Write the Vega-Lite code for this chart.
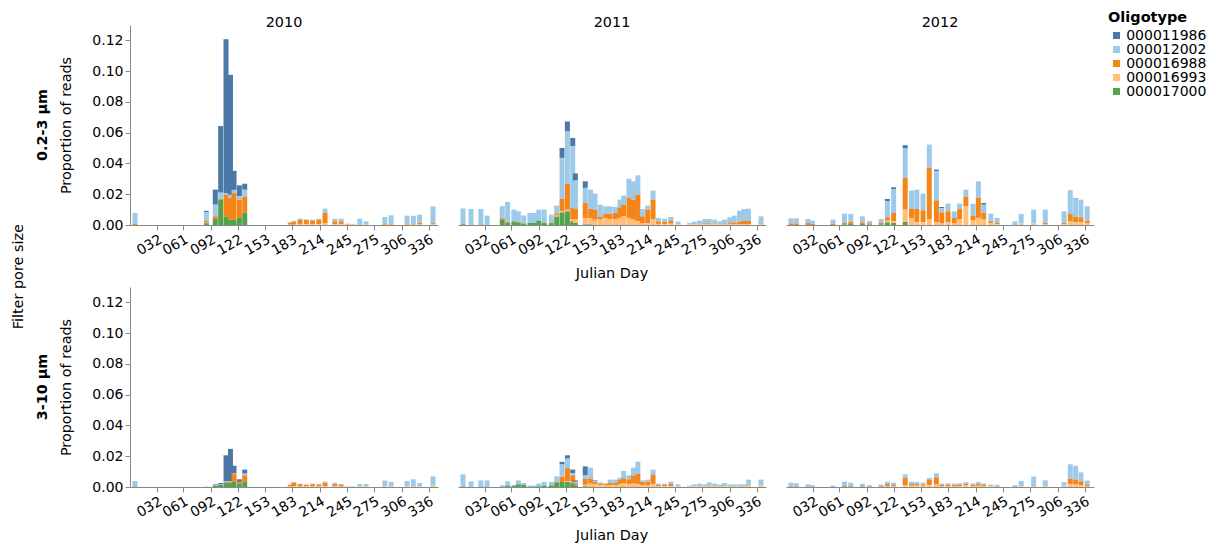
{
"$schema": "https://vega.github.io/schema/vega-lite/v6.json",
"padding": {"left": 11, "top": 11, "right": 5, "bottom": 2},
"title": {"text": "Filter pore size", "orient": "left", "anchor": "middle", "fontSize": 14.4, "fontWeight": "normal", "font": "DejaVu Sans", "offset": 9, "color": "#000"},
"data": {"values": [
{"pore":"0.2-3 µm","year":"2010","day":7,"000011986":0,"000012002":0.0072,"000016988":0.0006,"000016993":0,"000017000":0},
{"pore":"0.2-3 µm","year":"2010","day":87,"000011986":0.0009,"000012002":0.0056,"000016988":0.0012,"000016993":0.0003,"000017000":0.0012},
{"pore":"0.2-3 µm","year":"2010","day":97,"000011986":0.0098,"000012002":0.0076,"000016988":0.0017,"000016993":0,"000017000":0.0039},
{"pore":"0.2-3 µm","year":"2010","day":103,"000011986":0.0433,"000012002":0.004,"000016988":0.0005,"000016993":0,"000017000":0.0165},
{"pore":"0.2-3 µm","year":"2010","day":109,"000011986":0.1,"000012002":0.0011,"000016988":0.0141,"000016993":0,"000017000":0.0056},
{"pore":"0.2-3 µm","year":"2010","day":114,"000011986":0.078,"000012002":0.0021,"000016988":0.0141,"000016993":0,"000017000":0.0034},
{"pore":"0.2-3 µm","year":"2010","day":118,"000011986":0.0124,"000012002":0.0021,"000016988":0.0173,"000016993":0,"000017000":0.0034},
{"pore":"0.2-3 µm","year":"2010","day":124,"000011986":0.0071,"000012002":0.0022,"000016988":0.0119,"000016993":0,"000017000":0.0046},
{"pore":"0.2-3 µm","year":"2010","day":130,"000011986":0.0039,"000012002":0.0043,"000016988":0.0106,"000016993":0,"000017000":0.008},
{"pore":"0.2-3 µm","year":"2010","day":181,"000011986":0,"000012002":0.0004,"000016988":0.0012,"000016993":0.0002,"000017000":0},
{"pore":"0.2-3 µm","year":"2010","day":185,"000011986":0,"000012002":0.0008,"000016988":0.0018,"000016993":0.0002,"000017000":0},
{"pore":"0.2-3 µm","year":"2010","day":192,"000011986":0,"000012002":0.0005,"000016988":0.0032,"000016993":0.0004,"000017000":0},
{"pore":"0.2-3 µm","year":"2010","day":199,"000011986":0,"000012002":0.0005,"000016988":0.0028,"000016993":0.0004,"000017000":0},
{"pore":"0.2-3 µm","year":"2010","day":206,"000011986":0,"000012002":0.0005,"000016988":0.0026,"000016993":0.0004,"000017000":0},
{"pore":"0.2-3 µm","year":"2010","day":213,"000011986":0,"000012002":0.0007,"000016988":0.003,"000016993":0.0004,"000017000":0},
{"pore":"0.2-3 µm","year":"2010","day":220,"000011986":0,"000012002":0.0028,"000016988":0.0065,"000016993":0.0013,"000017000":0},
{"pore":"0.2-3 µm","year":"2010","day":231,"000011986":0,"000012002":0.0017,"000016988":0.002,"000016993":0.0004,"000017000":0},
{"pore":"0.2-3 µm","year":"2010","day":238,"000011986":0,"000012002":0.0017,"000016988":0.002,"000016993":0.0004,"000017000":0},
{"pore":"0.2-3 µm","year":"2010","day":245,"000011986":0,"000012002":0.0004,"000016988":0.0003,"000016993":0.0002,"000017000":0},
{"pore":"0.2-3 µm","year":"2010","day":251,"000011986":0,"000012002":0.0004,"000016988":0,"000016993":0.0003,"000017000":0},
{"pore":"0.2-3 µm","year":"2010","day":259,"000011986":0,"000012002":0.0035,"000016988":0.0004,"000016993":0.0002,"000017000":0},
{"pore":"0.2-3 µm","year":"2010","day":266,"000011986":0,"000012002":0.0022,"000016988":0,"000016993":0.0002,"000017000":0},
{"pore":"0.2-3 µm","year":"2010","day":287,"000011986":0,"000012002":0.0046,"000016988":0.0004,"000016993":0.0002,"000017000":0},
{"pore":"0.2-3 µm","year":"2010","day":294,"000011986":0,"000012002":0.0057,"000016988":0.0004,"000016993":0.0002,"000017000":0},
{"pore":"0.2-3 µm","year":"2010","day":312,"000011986":0,"000012002":0.0053,"000016988":0.0006,"000016993":0.0002,"000017000":0},
{"pore":"0.2-3 µm","year":"2010","day":319,"000011986":0,"000012002":0.0053,"000016988":0.0004,"000016993":0.0002,"000017000":0},
{"pore":"0.2-3 µm","year":"2010","day":326,"000011986":0,"000012002":0.0052,"000016988":0.0012,"000016993":0.0003,"000017000":0},
{"pore":"0.2-3 µm","year":"2010","day":341,"000011986":0,"000012002":0.0109,"000016988":0.0008,"000016993":0.0004,"000017000":0},
{"pore":"3-10 µm","year":"2010","day":7,"000011986":0,"000012002":0.0035,"000016988":0.0004,"000016993":0,"000017000":0},
{"pore":"3-10 µm","year":"2010","day":87,"000011986":0,"000012002":0,"000016988":0,"000016993":0.0004,"000017000":0},
{"pore":"3-10 µm","year":"2010","day":97,"000011986":0.0005,"000012002":0.0003,"000016988":0,"000016993":0,"000017000":0.0009},
{"pore":"3-10 µm","year":"2010","day":103,"000011986":0.0008,"000012002":0.0004,"000016988":0,"000016993":0,"000017000":0.0014},
{"pore":"3-10 µm","year":"2010","day":109,"000011986":0.0167,"000012002":0.0006,"000016988":0.0008,"000016993":0,"000017000":0.0025},
{"pore":"3-10 µm","year":"2010","day":114,"000011986":0.0212,"000012002":0.0007,"000016988":0.0003,"000016993":0,"000017000":0.0026},
{"pore":"3-10 µm","year":"2010","day":118,"000011986":0.0048,"000012002":0.0003,"000016988":0.0054,"000016993":0,"000017000":0.0033},
{"pore":"3-10 µm","year":"2010","day":124,"000011986":0.0017,"000012002":0,"000016988":0.0011,"000016993":0,"000017000":0.0022},
{"pore":"3-10 µm","year":"2010","day":130,"000011986":0.0026,"000012002":0.0011,"000016988":0.0043,"000016993":0,"000017000":0.0033},
{"pore":"3-10 µm","year":"2010","day":181,"000011986":0,"000012002":0,"000016988":0.0012,"000016993":0.0003,"000017000":0},
{"pore":"3-10 µm","year":"2010","day":185,"000011986":0,"000012002":0.0005,"000016988":0.0025,"000016993":0.0003,"000017000":0},
{"pore":"3-10 µm","year":"2010","day":192,"000011986":0,"000012002":0.0004,"000016988":0.0015,"000016993":0.0003,"000017000":0},
{"pore":"3-10 µm","year":"2010","day":199,"000011986":0,"000012002":0.0003,"000016988":0.0011,"000016993":0.0003,"000017000":0},
{"pore":"3-10 µm","year":"2010","day":206,"000011986":0,"000012002":0.0004,"000016988":0.0015,"000016993":0.0003,"000017000":0},
{"pore":"3-10 µm","year":"2010","day":213,"000011986":0,"000012002":0.0004,"000016988":0.0013,"000016993":0.0003,"000017000":0},
{"pore":"3-10 µm","year":"2010","day":220,"000011986":0,"000012002":0.0009,"000016988":0.0022,"000016993":0.0004,"000017000":0},
{"pore":"3-10 µm","year":"2010","day":231,"000011986":0,"000012002":0.0009,"000016988":0.0015,"000016993":0.0004,"000017000":0},
{"pore":"3-10 µm","year":"2010","day":238,"000011986":0,"000012002":0.0005,"000016988":0.0012,"000016993":0.0003,"000017000":0},
{"pore":"3-10 µm","year":"2010","day":245,"000011986":0,"000012002":0.0002,"000016988":0,"000016993":0.0002,"000017000":0},
{"pore":"3-10 µm","year":"2010","day":251,"000011986":0,"000012002":0.0002,"000016988":0,"000016993":0.0002,"000017000":0},
{"pore":"3-10 µm","year":"2010","day":259,"000011986":0,"000012002":0.0017,"000016988":0,"000016993":0.0003,"000017000":0},
{"pore":"3-10 µm","year":"2010","day":266,"000011986":0,"000012002":0.0017,"000016988":0,"000016993":0.0003,"000017000":0},
{"pore":"3-10 µm","year":"2010","day":287,"000011986":0,"000012002":0.0039,"000016988":0,"000016993":0.0004,"000017000":0},
{"pore":"3-10 µm","year":"2010","day":294,"000011986":0,"000012002":0.0029,"000016988":0,"000016993":0.0004,"000017000":0},
{"pore":"3-10 µm","year":"2010","day":312,"000011986":0,"000012002":0.0035,"000016988":0,"000016993":0.0004,"000017000":0},
{"pore":"3-10 µm","year":"2010","day":319,"000011986":0,"000012002":0.0045,"000016988":0.0002,"000016993":0.0003,"000017000":0},
{"pore":"3-10 µm","year":"2010","day":326,"000011986":0,"000012002":0.0022,"000016988":0,"000016993":0.0004,"000017000":0},
{"pore":"3-10 µm","year":"2010","day":341,"000011986":0,"000012002":0.0061,"000016988":0,"000016993":0.0008,"000017000":0},
{"pore":"0.2-3 µm","year":"2011","day":7,"000011986":0,"000012002":0.0102,"000016988":0.0006,"000016993":0,"000017000":0},
{"pore":"0.2-3 µm","year":"2011","day":16,"000011986":0,"000012002":0.0104,"000016988":0,"000016993":0,"000017000":0},
{"pore":"0.2-3 µm","year":"2011","day":27,"000011986":0,"000012002":0.01,"000016988":0.0004,"000016993":0,"000017000":0},
{"pore":"0.2-3 µm","year":"2011","day":34,"000011986":0,"000012002":0.0061,"000016988":0,"000016993":0,"000017000":0},
{"pore":"0.2-3 µm","year":"2011","day":51,"000011986":0,"000012002":0.0078,"000016988":0.0011,"000016993":0,"000017000":0.0033},
{"pore":"0.2-3 µm","year":"2011","day":57,"000011986":0,"000012002":0.0132,"000016988":0.0005,"000016993":0,"000017000":0.0013},
{"pore":"0.2-3 µm","year":"2011","day":64,"000011986":0,"000012002":0.0076,"000016988":0,"000016993":0,"000017000":0.0024},
{"pore":"0.2-3 µm","year":"2011","day":69,"000011986":0,"000012002":0.0069,"000016988":0.0005,"000016993":0,"000017000":0.0015},
{"pore":"0.2-3 µm","year":"2011","day":75,"000011986":0,"000012002":0.0051,"000016988":0,"000016993":0,"000017000":0.001},
{"pore":"0.2-3 µm","year":"2011","day":82,"000011986":0,"000012002":0.0065,"000016988":0,"000016993":0,"000017000":0.0013},
{"pore":"0.2-3 µm","year":"2011","day":87,"000011986":0,"000012002":0.0065,"000016988":0,"000016993":0,"000017000":0.0013},
{"pore":"0.2-3 µm","year":"2011","day":92,"000011986":0,"000012002":0.0072,"000016988":0,"000016993":0,"000017000":0.0028},
{"pore":"0.2-3 µm","year":"2011","day":98,"000011986":0,"000012002":0.0087,"000016988":0,"000016993":0,"000017000":0.0013},
{"pore":"0.2-3 µm","year":"2011","day":106,"000011986":0,"000012002":0.005,"000016988":0.0005,"000016993":0,"000017000":0.0012},
{"pore":"0.2-3 µm","year":"2011","day":112,"000011986":0,"000012002":0.0052,"000016988":0.0013,"000016993":0.0007,"000017000":0.0054},
{"pore":"0.2-3 µm","year":"2011","day":118,"000011986":0.0065,"000012002":0.0267,"000016988":0.008,"000016993":0.0007,"000017000":0.0082},
{"pore":"0.2-3 µm","year":"2011","day":124,"000011986":0.0065,"000012002":0.034,"000016988":0.0169,"000016993":0.001,"000017000":0.0089},
{"pore":"0.2-3 µm","year":"2011","day":130,"000011986":0.0054,"000012002":0.0401,"000016988":0.0072,"000016993":0.0015,"000017000":0.0024},
{"pore":"0.2-3 µm","year":"2011","day":133,"000011986":0.0046,"000012002":0.0184,"000016988":0.007,"000016993":0.0022,"000017000":0.0013},
{"pore":"0.2-3 µm","year":"2011","day":144,"000011986":0.0043,"000012002":0.0098,"000016988":0.0098,"000016993":0.0041,"000017000":0.0004},
{"pore":"0.2-3 µm","year":"2011","day":150,"000011986":0,"000012002":0.0126,"000016988":0.0059,"000016993":0.0041,"000017000":0.0004},
{"pore":"0.2-3 µm","year":"2011","day":155,"000011986":0,"000012002":0.0104,"000016988":0.0065,"000016993":0.0035,"000017000":0},
{"pore":"0.2-3 µm","year":"2011","day":161,"000011986":0,"000012002":0.008,"000016988":0.0017,"000016993":0.0035,"000017000":0},
{"pore":"0.2-3 µm","year":"2011","day":167,"000011986":0,"000012002":0.0048,"000016988":0.003,"000016993":0.0043,"000017000":0},
{"pore":"0.2-3 µm","year":"2011","day":172,"000011986":0,"000012002":0.0048,"000016988":0.0035,"000016993":0.0038,"000017000":0},
{"pore":"0.2-3 µm","year":"2011","day":178,"000011986":0,"000012002":0.0039,"000016988":0.0043,"000016993":0.0035,"000017000":0},
{"pore":"0.2-3 µm","year":"2011","day":183,"000011986":0,"000012002":0.0054,"000016988":0.0065,"000016993":0.0046,"000017000":0},
{"pore":"0.2-3 µm","year":"2011","day":187,"000011986":0,"000012002":0.0059,"000016988":0.0076,"000016993":0.0056,"000017000":0},
{"pore":"0.2-3 µm","year":"2011","day":193,"000011986":0,"000012002":0.0124,"000016988":0.013,"000016993":0.0046,"000017000":0},
{"pore":"0.2-3 µm","year":"2011","day":198,"000011986":0,"000012002":0.0119,"000016988":0.013,"000016993":0.0035,"000017000":0},
{"pore":"0.2-3 µm","year":"2011","day":203,"000011986":0,"000012002":0.0126,"000016988":0.0173,"000016993":0.0024,"000017000":0},
{"pore":"0.2-3 µm","year":"2011","day":208,"000011986":0,"000012002":0.0048,"000016988":0.0043,"000016993":0.0013,"000017000":0},
{"pore":"0.2-3 µm","year":"2011","day":214,"000011986":0,"000012002":0.0026,"000016988":0.0087,"000016993":0.0013,"000017000":0},
{"pore":"0.2-3 µm","year":"2011","day":220,"000011986":0,"000012002":0.0059,"000016988":0.013,"000016993":0.0035,"000017000":0},
{"pore":"0.2-3 µm","year":"2011","day":226,"000011986":0,"000012002":0.0022,"000016988":0.0017,"000016993":0.0007,"000017000":0},
{"pore":"0.2-3 µm","year":"2011","day":233,"000011986":0,"000012002":0.002,"000016988":0.0015,"000016993":0.0006,"000017000":0},
{"pore":"0.2-3 µm","year":"2011","day":240,"000011986":0,"000012002":0.0022,"000016988":0.0022,"000016993":0.0008,"000017000":0},
{"pore":"0.2-3 µm","year":"2011","day":248,"000011986":0,"000012002":0.0018,"000016988":0,"000016993":0.0004,"000017000":0},
{"pore":"0.2-3 µm","year":"2011","day":261,"000011986":0,"000012002":0.0011,"000016988":0,"000016993":0.0002,"000017000":0},
{"pore":"0.2-3 µm","year":"2011","day":266,"000011986":0,"000012002":0.0018,"000016988":0,"000016993":0.0004,"000017000":0},
{"pore":"0.2-3 µm","year":"2011","day":272,"000011986":0,"000012002":0.0022,"000016988":0,"000016993":0.0006,"000017000":0},
{"pore":"0.2-3 µm","year":"2011","day":278,"000011986":0,"000012002":0.0028,"000016988":0.0006,"000016993":0.0005,"000017000":0},
{"pore":"0.2-3 µm","year":"2011","day":283,"000011986":0,"000012002":0.0029,"000016988":0.0005,"000016993":0.0005,"000017000":0},
{"pore":"0.2-3 µm","year":"2011","day":289,"000011986":0,"000012002":0.0026,"000016988":0.0004,"000016993":0.0005,"000017000":0},
{"pore":"0.2-3 µm","year":"2011","day":295,"000011986":0,"000012002":0.0018,"000016988":0,"000016993":0.0006,"000017000":0},
{"pore":"0.2-3 µm","year":"2011","day":300,"000011986":0,"000012002":0.0026,"000016988":0.0004,"000016993":0.0005,"000017000":0},
{"pore":"0.2-3 µm","year":"2011","day":306,"000011986":0,"000012002":0.0038,"000016988":0.0006,"000016993":0.0006,"000017000":0},
{"pore":"0.2-3 µm","year":"2011","day":311,"000011986":0,"000012002":0.0045,"000016988":0.001,"000016993":0.0006,"000017000":0},
{"pore":"0.2-3 µm","year":"2011","day":317,"000011986":0,"000012002":0.0072,"000016988":0.0015,"000016993":0.0006,"000017000":0},
{"pore":"0.2-3 µm","year":"2011","day":322,"000011986":0,"000012002":0.0078,"000016988":0.002,"000016993":0.0006,"000017000":0},
{"pore":"0.2-3 µm","year":"2011","day":327,"000011986":0,"000012002":0.0078,"000016988":0.0022,"000016993":0.0006,"000017000":0},
{"pore":"0.2-3 µm","year":"2011","day":341,"000011986":0,"000012002":0.0046,"000016988":0.0006,"000016993":0.0004,"000017000":0},
{"pore":"3-10 µm","year":"2011","day":7,"000011986":0,"000012002":0.0078,"000016988":0.0004,"000016993":0,"000017000":0},
{"pore":"3-10 µm","year":"2011","day":16,"000011986":0,"000012002":0.0037,"000016988":0,"000016993":0,"000017000":0},
{"pore":"3-10 µm","year":"2011","day":27,"000011986":0,"000012002":0.0043,"000016988":0,"000016993":0,"000017000":0},
{"pore":"3-10 µm","year":"2011","day":34,"000011986":0,"000012002":0.0043,"000016988":0,"000016993":0,"000017000":0},
{"pore":"3-10 µm","year":"2011","day":51,"000011986":0,"000012002":0.0009,"000016988":0,"000016993":0,"000017000":0.0002},
{"pore":"3-10 µm","year":"2011","day":57,"000011986":0,"000012002":0.0028,"000016988":0,"000016993":0,"000017000":0.0009},
{"pore":"3-10 µm","year":"2011","day":64,"000011986":0,"000012002":0.0009,"000016988":0,"000016993":0,"000017000":0.0006},
{"pore":"3-10 µm","year":"2011","day":69,"000011986":0,"000012002":0.0022,"000016988":0.0004,"000016993":0,"000017000":0.0017},
{"pore":"3-10 µm","year":"2011","day":75,"000011986":0,"000012002":0.0013,"000016988":0,"000016993":0,"000017000":0.0013},
{"pore":"3-10 µm","year":"2011","day":82,"000011986":0,"000012002":0.0007,"000016988":0,"000016993":0,"000017000":0.0002},
{"pore":"3-10 µm","year":"2011","day":87,"000011986":0,"000012002":0.0007,"000016988":0,"000016993":0,"000017000":0.0002},
{"pore":"3-10 µm","year":"2011","day":92,"000011986":0,"000012002":0.0018,"000016988":0,"000016993":0,"000017000":0.0004},
{"pore":"3-10 µm","year":"2011","day":98,"000011986":0,"000012002":0.0024,"000016988":0,"000016993":0,"000017000":0.0009},
{"pore":"3-10 µm","year":"2011","day":106,"000011986":0,"000012002":0.002,"000016988":0.0004,"000016993":0,"000017000":0.0009},
{"pore":"3-10 µm","year":"2011","day":112,"000011986":0,"000012002":0.0035,"000016988":0.0004,"000016993":0,"000017000":0.003},
{"pore":"3-10 µm","year":"2011","day":118,"000011986":0.0017,"000012002":0.008,"000016988":0.0033,"000016993":0,"000017000":0.0033},
{"pore":"3-10 µm","year":"2011","day":124,"000011986":0.0022,"000012002":0.0061,"000016988":0.0087,"000016993":0.0004,"000017000":0.0032},
{"pore":"3-10 µm","year":"2011","day":130,"000011986":0.0022,"000012002":0.0015,"000016988":0.0043,"000016993":0.0005,"000017000":0.0028},
{"pore":"3-10 µm","year":"2011","day":133,"000011986":0.0009,"000012002":0.001,"000016988":0.0015,"000016993":0,"000017000":0.0009},
{"pore":"3-10 µm","year":"2011","day":144,"000011986":0.0059,"000012002":0.0022,"000016988":0.0039,"000016993":0.001,"000017000":0.0004},
{"pore":"3-10 µm","year":"2011","day":150,"000011986":0,"000012002":0.0072,"000016988":0.0033,"000016993":0.0021,"000017000":0},
{"pore":"3-10 µm","year":"2011","day":155,"000011986":0.0004,"000012002":0.0007,"000016988":0.0013,"000016993":0.0019,"000017000":0},
{"pore":"3-10 µm","year":"2011","day":161,"000011986":0,"000012002":0.0009,"000016988":0.0009,"000016993":0.0012,"000017000":0},
{"pore":"3-10 µm","year":"2011","day":167,"000011986":0,"000012002":0,"000016988":0.0009,"000016993":0.0013,"000017000":0},
{"pore":"3-10 µm","year":"2011","day":172,"000011986":0,"000012002":0.0022,"000016988":0.0013,"000016993":0.0013,"000017000":0},
{"pore":"3-10 µm","year":"2011","day":178,"000011986":0,"000012002":0.0022,"000016988":0.0013,"000016993":0.0013,"000017000":0},
{"pore":"3-10 µm","year":"2011","day":183,"000011986":0,"000012002":0.0015,"000016988":0.0026,"000016993":0.0019,"000017000":0},
{"pore":"3-10 µm","year":"2011","day":187,"000011986":0,"000012002":0.0048,"000016988":0.003,"000016993":0.0026,"000017000":0},
{"pore":"3-10 µm","year":"2011","day":193,"000011986":0,"000012002":0.0026,"000016988":0.003,"000016993":0.002,"000017000":0},
{"pore":"3-10 µm","year":"2011","day":198,"000011986":0,"000012002":0.0052,"000016988":0.0052,"000016993":0.0022,"000017000":0},
{"pore":"3-10 µm","year":"2011","day":203,"000011986":0,"000012002":0.008,"000016988":0.0065,"000016993":0.002,"000017000":0},
{"pore":"3-10 µm","year":"2011","day":208,"000011986":0,"000012002":0.001,"000016988":0.0022,"000016993":0.0011,"000017000":0},
{"pore":"3-10 µm","year":"2011","day":214,"000011986":0,"000012002":0.0013,"000016988":0.0026,"000016993":0.0009,"000017000":0},
{"pore":"3-10 µm","year":"2011","day":220,"000011986":0,"000012002":0.0035,"000016988":0.0061,"000016993":0.0017,"000017000":0},
{"pore":"3-10 µm","year":"2011","day":226,"000011986":0,"000012002":0.0009,"000016988":0.0009,"000016993":0.0004,"000017000":0},
{"pore":"3-10 µm","year":"2011","day":233,"000011986":0,"000012002":0.0009,"000016988":0.0009,"000016993":0.0004,"000017000":0},
{"pore":"3-10 µm","year":"2011","day":240,"000011986":0,"000012002":0.0013,"000016988":0.0017,"000016993":0.0005,"000017000":0},
{"pore":"3-10 µm","year":"2011","day":248,"000011986":0,"000012002":0.0013,"000016988":0,"000016993":0.0004,"000017000":0},
{"pore":"3-10 µm","year":"2011","day":261,"000011986":0,"000012002":0.0006,"000016988":0,"000016993":0.0003,"000017000":0},
{"pore":"3-10 µm","year":"2011","day":266,"000011986":0,"000012002":0.0013,"000016988":0,"000016993":0.0004,"000017000":0},
{"pore":"3-10 µm","year":"2011","day":272,"000011986":0,"000012002":0.0017,"000016988":0,"000016993":0.0005,"000017000":0},
{"pore":"3-10 µm","year":"2011","day":278,"000011986":0,"000012002":0.0012,"000016988":0,"000016993":0.0005,"000017000":0},
{"pore":"3-10 µm","year":"2011","day":283,"000011986":0,"000012002":0.0022,"000016988":0.0003,"000016993":0.0005,"000017000":0},
{"pore":"3-10 µm","year":"2011","day":289,"000011986":0,"000012002":0.0016,"000016988":0,"000016993":0.0006,"000017000":0},
{"pore":"3-10 µm","year":"2011","day":295,"000011986":0,"000012002":0.0012,"000016988":0,"000016993":0.0005,"000017000":0},
{"pore":"3-10 µm","year":"2011","day":300,"000011986":0,"000012002":0.002,"000016988":0,"000016993":0.0006,"000017000":0},
{"pore":"3-10 µm","year":"2011","day":306,"000011986":0,"000012002":0.0012,"000016988":0,"000016993":0.0005,"000017000":0},
{"pore":"3-10 µm","year":"2011","day":311,"000011986":0,"000012002":0.0012,"000016988":0,"000016993":0.0005,"000017000":0},
{"pore":"3-10 µm","year":"2011","day":317,"000011986":0,"000012002":0.0012,"000016988":0,"000016993":0.0005,"000017000":0},
{"pore":"3-10 µm","year":"2011","day":322,"000011986":0,"000012002":0.0012,"000016988":0,"000016993":0.0005,"000017000":0},
{"pore":"3-10 µm","year":"2011","day":327,"000011986":0,"000012002":0.0035,"000016988":0,"000016993":0.0013,"000017000":0},
{"pore":"3-10 µm","year":"2011","day":341,"000011986":0,"000012002":0.0038,"000016988":0,"000016993":0.001,"000017000":0},
{"pore":"0.2-3 µm","year":"2012","day":7,"000011986":0,"000012002":0.0033,"000016988":0.001,"000016993":0,"000017000":0},
{"pore":"0.2-3 µm","year":"2012","day":13,"000011986":0,"000012002":0.0033,"000016988":0.001,"000016993":0,"000017000":0},
{"pore":"0.2-3 µm","year":"2012","day":26,"000011986":0,"000012002":0.0026,"000016988":0.0013,"000016993":0,"000017000":0},
{"pore":"0.2-3 µm","year":"2012","day":31,"000011986":0,"000012002":0.0022,"000016988":0.0006,"000016993":0,"000017000":0},
{"pore":"0.2-3 µm","year":"2012","day":54,"000011986":0,"000012002":0.0028,"000016988":0.0007,"000016993":0,"000017000":0},
{"pore":"0.2-3 µm","year":"2012","day":67,"000011986":0,"000012002":0.0061,"000016988":0.0009,"000016993":0,"000017000":0.0004},
{"pore":"0.2-3 µm","year":"2012","day":74,"000011986":0,"000012002":0.0052,"000016988":0.0013,"000016993":0,"000017000":0.0007},
{"pore":"0.2-3 µm","year":"2012","day":87,"000011986":0,"000012002":0.0039,"000016988":0.001,"000016993":0,"000017000":0.0007},
{"pore":"0.2-3 µm","year":"2012","day":95,"000011986":0,"000012002":0.0015,"000016988":0.0007,"000016993":0,"000017000":0.0004},
{"pore":"0.2-3 µm","year":"2012","day":108,"000011986":0,"000012002":0.0026,"000016988":0.0009,"000016993":0,"000017000":0.0004},
{"pore":"0.2-3 µm","year":"2012","day":115,"000011986":0.0013,"000012002":0.0106,"000016988":0.0022,"000016993":0.0011,"000017000":0.0017},
{"pore":"0.2-3 µm","year":"2012","day":122,"000011986":0.0011,"000012002":0.0156,"000016988":0.0054,"000016993":0.0011,"000017000":0.0013},
{"pore":"0.2-3 µm","year":"2012","day":135,"000011986":0.0022,"000012002":0.0191,"000016988":0.0206,"000016993":0.008,"000017000":0.002},
{"pore":"0.2-3 µm","year":"2012","day":142,"000011986":0,"000012002":0.0119,"000016988":0.0059,"000016993":0.0046,"000017000":0},
{"pore":"0.2-3 µm","year":"2012","day":148,"000011986":0,"000012002":0.0126,"000016988":0.0087,"000016993":0.0017,"000017000":0},
{"pore":"0.2-3 µm","year":"2012","day":155,"000011986":0,"000012002":0.0108,"000016988":0.0078,"000016993":0.0018,"000017000":0},
{"pore":"0.2-3 µm","year":"2012","day":162,"000011986":0,"000012002":0.0152,"000016988":0.0336,"000016993":0.0035,"000017000":0},
{"pore":"0.2-3 µm","year":"2012","day":170,"000011986":0.0011,"000012002":0.0189,"000016988":0.0143,"000016993":0.0017,"000017000":0},
{"pore":"0.2-3 µm","year":"2012","day":176,"000011986":0.0007,"000012002":0.0028,"000016988":0.0069,"000016993":0.0013,"000017000":0},
{"pore":"0.2-3 µm","year":"2012","day":183,"000011986":0,"000012002":0.005,"000016988":0.0072,"000016993":0.0017,"000017000":0},
{"pore":"0.2-3 µm","year":"2012","day":190,"000011986":0,"000012002":0.0043,"000016988":0.0033,"000016993":0.0013,"000017000":0},
{"pore":"0.2-3 µm","year":"2012","day":196,"000011986":0,"000012002":0.0035,"000016988":0.0069,"000016993":0.0035,"000017000":0},
{"pore":"0.2-3 µm","year":"2012","day":203,"000011986":0,"000012002":0.0048,"000016988":0.0061,"000016993":0.0121,"000017000":0},
{"pore":"0.2-3 µm","year":"2012","day":211,"000011986":0,"000012002":0.0078,"000016988":0.003,"000016993":0.003,"000017000":0},
{"pore":"0.2-3 µm","year":"2012","day":217,"000011986":0,"000012002":0.0108,"000016988":0.013,"000016993":0.0046,"000017000":0},
{"pore":"0.2-3 µm","year":"2012","day":223,"000011986":0.0011,"000012002":0.0054,"000016988":0.0043,"000016993":0.0035,"000017000":0},
{"pore":"0.2-3 µm","year":"2012","day":231,"000011986":0,"000012002":0.005,"000016988":0.0013,"000016993":0.0011,"000017000":0},
{"pore":"0.2-3 µm","year":"2012","day":238,"000011986":0,"000012002":0.0033,"000016988":0.0009,"000016993":0.0004,"000017000":0},
{"pore":"0.2-3 µm","year":"2012","day":258,"000011986":0,"000012002":0.0024,"000016988":0,"000016993":0,"000017000":0},
{"pore":"0.2-3 µm","year":"2012","day":265,"000011986":0,"000012002":0.0063,"000016988":0,"000016993":0.0009,"000017000":0},
{"pore":"0.2-3 µm","year":"2012","day":279,"000011986":0,"000012002":0.0091,"000016988":0,"000016993":0.0009,"000017000":0},
{"pore":"0.2-3 µm","year":"2012","day":292,"000011986":0,"000012002":0.0085,"000016988":0.0011,"000016993":0.0004,"000017000":0},
{"pore":"0.2-3 µm","year":"2012","day":313,"000011986":0,"000012002":0.0076,"000016988":0.0009,"000016993":0.0004,"000017000":0},
{"pore":"0.2-3 µm","year":"2012","day":320,"000011986":0,"000012002":0.0154,"000016988":0.005,"000016993":0.0022,"000017000":0},
{"pore":"0.2-3 µm","year":"2012","day":326,"000011986":0.0004,"000012002":0.0119,"000016988":0.0035,"000016993":0.0017,"000017000":0},
{"pore":"0.2-3 µm","year":"2012","day":332,"000011986":0,"000012002":0.0115,"000016988":0.0033,"000016993":0.0017,"000017000":0},
{"pore":"0.2-3 µm","year":"2012","day":339,"000011986":0,"000012002":0.0093,"000016988":0.0015,"000016993":0.0013,"000017000":0},
{"pore":"3-10 µm","year":"2012","day":7,"000011986":0,"000012002":0.0025,"000016988":0.0003,"000016993":0,"000017000":0},
{"pore":"3-10 µm","year":"2012","day":13,"000011986":0,"000012002":0.0022,"000016988":0.0003,"000016993":0,"000017000":0},
{"pore":"3-10 µm","year":"2012","day":26,"000011986":0,"000012002":0.0015,"000016988":0.0002,"000016993":0,"000017000":0},
{"pore":"3-10 µm","year":"2012","day":31,"000011986":0,"000012002":0.0012,"000016988":0,"000016993":0,"000017000":0},
{"pore":"3-10 µm","year":"2012","day":54,"000011986":0,"000012002":0.0009,"000016988":0,"000016993":0,"000017000":0},
{"pore":"3-10 µm","year":"2012","day":67,"000011986":0,"000012002":0.0028,"000016988":0.0005,"000016993":0,"000017000":0.0002},
{"pore":"3-10 µm","year":"2012","day":74,"000011986":0,"000012002":0.0022,"000016988":0.0004,"000016993":0,"000017000":0.0002},
{"pore":"3-10 µm","year":"2012","day":87,"000011986":0,"000012002":0.0015,"000016988":0.0004,"000016993":0,"000017000":0.0002},
{"pore":"3-10 µm","year":"2012","day":95,"000011986":0,"000012002":0.0009,"000016988":0.0003,"000016993":0,"000017000":0},
{"pore":"3-10 µm","year":"2012","day":108,"000011986":0,"000012002":0.0011,"000016988":0.0003,"000016993":0,"000017000":0.0002},
{"pore":"3-10 µm","year":"2012","day":115,"000011986":0,"000012002":0.0015,"000016988":0.0013,"000016993":0.0005,"000017000":0.0002},
{"pore":"3-10 µm","year":"2012","day":122,"000011986":0,"000012002":0.0015,"000016988":0.0009,"000016993":0.0004,"000017000":0},
{"pore":"3-10 µm","year":"2012","day":135,"000011986":0.0004,"000012002":0.0018,"000016988":0.0046,"000016993":0.0012,"000017000":0},
{"pore":"3-10 µm","year":"2012","day":142,"000011986":0,"000012002":0.0015,"000016988":0.0011,"000016993":0.0008,"000017000":0},
{"pore":"3-10 µm","year":"2012","day":148,"000011986":0,"000012002":0.0013,"000016988":0.0011,"000016993":0.0009,"000017000":0},
{"pore":"3-10 µm","year":"2012","day":155,"000011986":0,"000012002":0.0011,"000016988":0.0009,"000016993":0.0008,"000017000":0},
{"pore":"3-10 µm","year":"2012","day":162,"000011986":0,"000012002":0.0013,"000016988":0.0035,"000016993":0.0011,"000017000":0},
{"pore":"3-10 µm","year":"2012","day":170,"000011986":0,"000012002":0.0026,"000016988":0.0048,"000016993":0.0015,"000017000":0},
{"pore":"3-10 µm","year":"2012","day":176,"000011986":0,"000012002":0.0009,"000016988":0.0009,"000016993":0.0004,"000017000":0},
{"pore":"3-10 µm","year":"2012","day":183,"000011986":0,"000012002":0.0009,"000016988":0.0009,"000016993":0.0006,"000017000":0},
{"pore":"3-10 µm","year":"2012","day":190,"000011986":0,"000012002":0.0008,"000016988":0.0008,"000016993":0.0006,"000017000":0},
{"pore":"3-10 µm","year":"2012","day":196,"000011986":0,"000012002":0.0009,"000016988":0.0009,"000016993":0.0006,"000017000":0},
{"pore":"3-10 µm","year":"2012","day":203,"000011986":0,"000012002":0.0011,"000016988":0.0009,"000016993":0.0011,"000017000":0},
{"pore":"3-10 µm","year":"2012","day":211,"000011986":0,"000012002":0.0009,"000016988":0.0008,"000016993":0.0006,"000017000":0},
{"pore":"3-10 µm","year":"2012","day":217,"000011986":0,"000012002":0.0013,"000016988":0.0011,"000016993":0.0008,"000017000":0},
{"pore":"3-10 µm","year":"2012","day":223,"000011986":0,"000012002":0.0009,"000016988":0.0008,"000016993":0.0006,"000017000":0},
{"pore":"3-10 µm","year":"2012","day":231,"000011986":0,"000012002":0.0008,"000016988":0.0004,"000016993":0.0004,"000017000":0},
{"pore":"3-10 µm","year":"2012","day":238,"000011986":0,"000012002":0.0008,"000016988":0.0004,"000016993":0.0002,"000017000":0},
{"pore":"3-10 µm","year":"2012","day":258,"000011986":0,"000012002":0.0012,"000016988":0,"000016993":0,"000017000":0},
{"pore":"3-10 µm","year":"2012","day":265,"000011986":0,"000012002":0.0035,"000016988":0,"000016993":0.0005,"000017000":0},
{"pore":"3-10 µm","year":"2012","day":279,"000011986":0,"000012002":0.0062,"000016988":0,"000016993":0.0006,"000017000":0},
{"pore":"3-10 µm","year":"2012","day":292,"000011986":0,"000012002":0.0038,"000016988":0,"000016993":0.0005,"000017000":0},
{"pore":"3-10 µm","year":"2012","day":313,"000011986":0,"000012002":0.0028,"000016988":0,"000016993":0.0004,"000017000":0},
{"pore":"3-10 µm","year":"2012","day":320,"000011986":0,"000012002":0.0095,"000016988":0.0035,"000016993":0.0018,"000017000":0},
{"pore":"3-10 µm","year":"2012","day":326,"000011986":0,"000012002":0.009,"000016988":0.0032,"000016993":0.0016,"000017000":0},
{"pore":"3-10 µm","year":"2012","day":332,"000011986":0,"000012002":0.0058,"000016988":0.0025,"000016993":0.0012,"000017000":0},
{"pore":"3-10 µm","year":"2012","day":339,"000011986":0,"000012002":0.0026,"000016988":0.001,"000016993":0.0006,"000017000":0}
]},
"transform": [{"fold": ["000011986","000012002","000016988","000016993","000017000"], "as": ["Oligotype","prop"]}],
"spacing": 6,
"vconcat": [
{
"transform": [{"filter": "datum.pore == '0.2-3 µm'"}],
"facet": {
 "row": {"field": "pore", "type": "nominal", "title": null, "header": {"labelFontWeight": "bold", "labelFontSize": 14.4, "labelAngle": -90, "labelPadding": 1}},
 "column": {"field": "year", "type": "nominal", "title": "Julian Day", "header": {"labelOrient": "top", "titleOrient": "bottom", "labelFontSize": 14.4, "labelPadding": -5, "titleFontSize": 14.4, "titleFontWeight": "normal", "titlePadding": -1}}
},
"spacing": {"row": 20, "column": 20},
"spec": {
 "width": 308, "height": 200,
 "mark": {"type": "bar"},
 "encoding": {
  "x": {"field": "day", "type": "quantitative", "title": null, "scale": {"domain": [7, 341], "nice": false, "zero": false}, "axis": {"values": [32,61,92,122,153,183,214,245,275,306,336], "format": "03d", "labelAngle": -30, "labelOverlap": false, "grid": false}},
  "y": {"field": "prop", "type": "quantitative", "title": "Proportion of reads", "scale": {"domain": [0, 0.13], "nice": false}, "axis": {"values": [0,0.02,0.04,0.06,0.08,0.1,0.12], "format": ".2f", "grid": false, "titlePadding": 18}},
  "color": {"field": "Oligotype", "type": "nominal", "scale": {"domain": ["000011986","000012002","000016988","000016993","000017000"], "range": ["#4c78a8","#9ecae9","#f58518","#ffbf79","#54a24b"]}, "legend": {"orient": "none", "legendX": 978, "legendY": -14, "rowPadding": 0, "titlePadding": 3}}
 }
}
},
{
"transform": [{"filter": "datum.pore == '3-10 µm'"}],
"facet": {
 "row": {"field": "pore", "type": "nominal", "title": null, "header": {"labelFontWeight": "bold", "labelFontSize": 14.4, "labelAngle": -90, "labelPadding": 1}},
 "column": {"field": "year", "type": "nominal", "title": "Julian Day", "header": {"labels": false, "titleOrient": "bottom", "titleFontSize": 14.4, "titleFontWeight": "normal", "titlePadding": -1}}
},
"spacing": {"row": 20, "column": 20},
"spec": {
 "width": 308, "height": 200,
 "mark": {"type": "bar"},
 "encoding": {
  "x": {"field": "day", "type": "quantitative", "title": null, "scale": {"domain": [7, 341], "nice": false, "zero": false}, "axis": {"values": [32,61,92,122,153,183,214,245,275,306,336], "format": "03d", "labelAngle": -30, "labelOverlap": false, "grid": false}},
  "y": {"field": "prop", "type": "quantitative", "title": "Proportion of reads", "scale": {"domain": [0, 0.13], "nice": false}, "axis": {"values": [0,0.02,0.04,0.06,0.08,0.1,0.12], "format": ".2f", "grid": false, "titlePadding": 18}},
  "color": {"field": "Oligotype", "type": "nominal", "scale": {"domain": ["000011986","000012002","000016988","000016993","000017000"], "range": ["#4c78a8","#9ecae9","#f58518","#ffbf79","#54a24b"]}, "legend": {"orient": "none", "legendX": 978, "legendY": -14, "rowPadding": 0, "titlePadding": 3}}
 }
}
}
],
"config": {
 "font": "DejaVu Sans",
 "view": {"stroke": null},
 "axis": {"labelFontSize": 14, "titleFontSize": 14.4, "titleFontWeight": "normal", "labelColor": "#000", "titleColor": "#000"},
 "header": {"labelFontSize": 14.4, "titleFontSize": 14.4, "labelColor": "#000", "titleColor": "#000"},
 "legend": {"titleFontSize": 14.5, "labelFontSize": 14, "symbolType": "square", "symbolSize": 50, "symbolStrokeWidth": 0, "symbolOffset": 1.5, "labelOffset": 2.7, "titleColor": "#000", "labelColor": "#000"}
}
}
